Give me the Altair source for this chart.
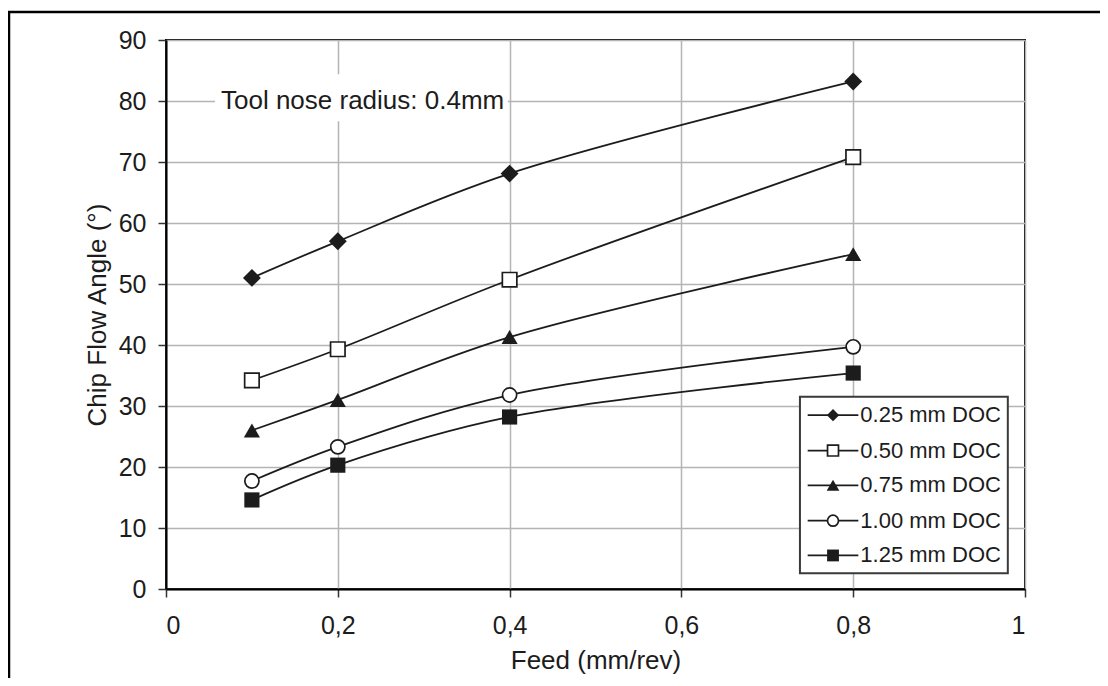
import altair as alt
import pandas as pd

# ---- data ----
feed = [0.1, 0.2, 0.4, 0.8]
series_names = ["0.25 mm DOC", "0.50 mm DOC", "0.75 mm DOC", "1.00 mm DOC", "1.25 mm DOC"]
doc_025 = [51.0, 57.0, 68.1, 83.2]
doc_050 = [34.2, 39.3, 50.7, 70.8]
doc_075 = [26.0, 31.0, 41.3, 54.9]
doc_100 = [17.7, 23.3, 31.8, 39.7]
doc_125 = [14.6, 20.3, 28.2, 35.4]
all_values = [doc_025, doc_050, doc_075, doc_100, doc_125]

x_ticks = [0, 0.2, 0.4, 0.6, 0.8, 1.0]
y_ticks = [0, 10, 20, 30, 40, 50, 60, 70, 80, 90]

annotation = "Tool nose radius: 0.4mm"

# marker styles: (shape, filled, plot size, legend size)
styles = [
    ("diamond", True, 320, 150),
    ("square", False, 210, 120),
    ("triangle-up", True, 260, 160),
    ("circle", False, 200, 120),
    ("square", True, 230, 140),
]

# legend placement in data coordinates
legend_y = [28.5, 22.7, 17.0, 11.2, 5.5]
legend_box = {"x": 0.738, "x2": 0.980, "y": 31.5, "y2": 2.6}
legend_line_x = (0.747, 0.806)
legend_sym_x = 0.7765
legend_text_x = 0.806

note_box = {"x": 0.057, "x2": 0.398, "y": 84.4, "y2": 76.7}
note_pos = (0.064, 80.0)

FONT = "Liberation Sans"
INK = "#1c1c1c"

rows = []
for name, vals in zip(series_names, all_values):
    for f, v in zip(feed, vals):
        rows.append({"series": name, "feed": f, "angle": v})
df = pd.DataFrame(rows)

xscale = alt.Scale(domain=[0, 1], nice=False)
yscale = alt.Scale(domain=[0, 90], nice=False)

xenc = alt.X("feed:Q", scale=xscale, title="Feed (mm/rev)",
             axis=alt.Axis(values=x_ticks,
                           labelExpr="replace(format(datum.value, '~g'), '.', ',')"))
yenc = alt.Y("angle:Q", scale=yscale, title="Chip Flow Angle (°)",
             axis=alt.Axis(values=y_ticks))

lines = alt.Chart(df).mark_line(interpolate="catmull-rom", color=INK, strokeWidth=1.8).encode(
    x=xenc, y=yenc, detail="series:N"
)

layers = [lines]
for name, (shape, filled, size, _) in zip(series_names, styles):
    if filled:
        mk = alt.Chart(df).mark_point(shape=shape, filled=True, color=INK, size=size, opacity=1)
    else:
        mk = alt.Chart(df).mark_point(shape=shape, filled=True, fill="white", stroke=INK,
                                      strokeWidth=1.7, size=size, opacity=1)
    layers.append(mk.transform_filter(alt.datum.series == name).encode(x="feed:Q", y="angle:Q"))

# annotation with white background
nb = pd.DataFrame([note_box])
note_bg = alt.Chart(nb).mark_rect(color="white").encode(x="x:Q", x2="x2:Q", y="y:Q", y2="y2:Q")
nt = pd.DataFrame([{"x": note_pos[0], "y": note_pos[1], "t": annotation}])
note_txt = alt.Chart(nt).mark_text(align="left", baseline="middle", fontSize=26, font=FONT,
                                   color=INK).encode(x="x:Q", y="y:Q", text="t:N")
layers += [note_bg, note_txt]

# legend (manual, in data coordinates)
lb = pd.DataFrame([legend_box])
leg_box = alt.Chart(lb).mark_rect(fill="white", stroke="#3a3a3a", strokeWidth=2).encode(
    x="x:Q", x2="x2:Q", y="y:Q", y2="y2:Q")
leg_rows = pd.DataFrame({"series": series_names, "ly": legend_y,
                         "x1": [legend_line_x[0]] * 5, "x2": [legend_line_x[1]] * 5,
                         "xs": [legend_sym_x] * 5, "xt": [legend_text_x] * 5})
leg_lines = alt.Chart(leg_rows).mark_rule(color=INK, strokeWidth=1.8).encode(
    x="x1:Q", x2="x2:Q", y="ly:Q")
leg_text = alt.Chart(leg_rows).mark_text(align="left", baseline="middle", fontSize=22,
                                         font=FONT, color=INK, dx=2).encode(
    x="xt:Q", y="ly:Q", text="series:N")
layers += [leg_box, leg_lines]
for name, (shape, filled, _, lsize) in zip(series_names, styles):
    if filled:
        mk = alt.Chart(leg_rows).mark_point(shape=shape, filled=True, color=INK, size=lsize, opacity=1)
    else:
        mk = alt.Chart(leg_rows).mark_point(shape=shape, filled=True, fill="white", stroke=INK,
                                            strokeWidth=1.7, size=lsize, opacity=1)
    layers.append(mk.transform_filter(alt.datum.series == name).encode(x="xs:Q", y="ly:Q"))
layers.append(leg_text)

# outer figure frame
frame = alt.Chart(pd.DataFrame([{"a": 1}])).mark_rect(
    fill="white", fillOpacity=0, stroke="black", strokeWidth=2.5, clip=False
).encode(x=alt.value(-157), x2=alt.value(1000), y=alt.value(-28), y2=alt.value(800))
layers.append(frame)

chart = alt.layer(*layers).properties(
    width=859, height=549,
    autosize=alt.AutoSizeParams(type="none"),
    padding={"left": 158, "top": 32, "right": 75, "bottom": 89},
).configure_view(
    stroke="black", strokeWidth=2
).configure_axis(
    labelFont=FONT, titleFont=FONT, labelFontSize=25, titleFontSize=26,
    labelColor=INK, titleColor=INK, titleFontWeight="normal",
    domainColor="black", domainWidth=2, tickColor="#333", tickWidth=1.5, tickSize=8,
    gridColor="#b4b4b4", gridWidth=1.5,
).configure_axisX(
    labelPadding=16, titlePadding=9
).configure_axisY(
    labelPadding=12, titlePadding=8
)

chart.save("out.html", embed_options={"renderer": "svg", "actions": False})
